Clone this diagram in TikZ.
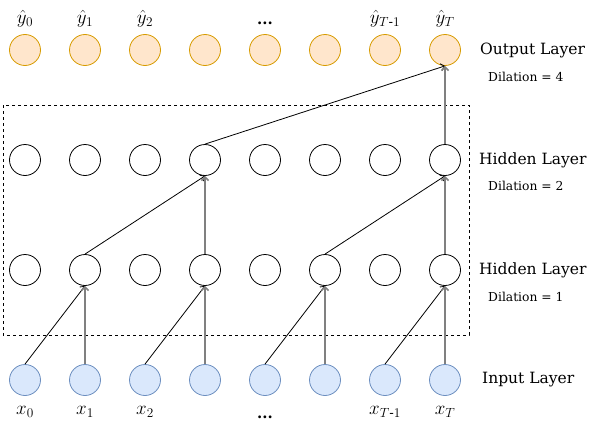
\RequirePackage{fix-cm}
\documentclass[tikz,border=0pt]{standalone}
\usepackage{amsmath}
\usepackage{fontspec}
\setmainfont{DejaVu Serif}
\usetikzlibrary{arrows.meta}
\definecolor{outFill}{HTML}{FFE6CC}
\definecolor{outDraw}{HTML}{D79B00}
\definecolor{inFill}{HTML}{DAE8FC}
\definecolor{inDraw}{HTML}{6C8EBF}
\tikzset{
    tcnUnit/.style={
        circle, draw=black, fill=white, line width=0.8pt, minimum size=31pt, inner sep=0pt
    },
    tcnOut/.style={
        tcnUnit, draw=outDraw, fill=outFill
    },
    tcnIn/.style={
        tcnUnit, draw=inDraw, fill=inFill
    },
    tcnSym/.style={
        font=\fontsize{19}{21}\selectfont, inner sep=0pt
    },
    tcnLayer/.style={
        anchor=west, font=\fontsize{15.5}{17}\selectfont, inner sep=0pt
    },
    tcnDil/.style={
        anchor=west, font=\fontsize{12.3}{14}\selectfont, inner sep=0pt
    },
    tcnArrow/.style={
        -{Straight Barb[length=3.5pt, width=7pt]}, line width=0.8pt, draw=black
    },
    tcnStraight/.style={
        tcnArrow, draw=black!50, line width=1.6pt
    }
}
\begin{document}
\begin{tikzpicture}[x=1pt, y=-1pt]
    \useasboundingbox (0, 0) rectangle (591, 431);

    % ── DASHED FRAME ROUND THE HIDDEN LAYERS
    \draw[black, dashed, line width=0.8pt] (3, 105) rectangle (469, 335);

    % ── OUTPUT LAYER
    \node[tcnOut] (out0) at (25, 50) {};
    \node[tcnOut] (out1) at (85, 50) {};
    \node[tcnOut] (out2) at (145, 50) {};
    \node[tcnOut] (out3) at (205, 50) {};
    \node[tcnOut] (out4) at (265, 50) {};
    \node[tcnOut] (out5) at (325, 50) {};
    \node[tcnOut] (out6) at (385, 50) {};
    \node[tcnOut] (out7) at (445, 50) {};
    \node[tcnSym] (yHat0) at (25, 19) {$\hat{y}_{0}$};
    \node[tcnSym] (yHat1) at (85, 19) {$\hat{y}_{1}$};
    \node[tcnSym] (yHat2) at (145, 19) {$\hat{y}_{2}$};
    \node[tcnSym, font=\fontsize{15}{17}\selectfont] (yDots) at (265, 23) {\textbf{...}};
    \node[tcnSym] (yHatA) at (385, 19) {$\hat{y}_{T\text{-}1}$};
    \node[tcnSym] (yHatB) at (445, 19) {$\hat{y}_{T}$};

    % ── HIDDEN LAYER (DILATION 2)
    \node[tcnUnit] (hb0) at (25, 160) {};
    \node[tcnUnit] (hb1) at (85, 160) {};
    \node[tcnUnit] (hb2) at (145, 160) {};
    \node[tcnUnit] (hb3) at (205, 160) {};
    \node[tcnUnit] (hb4) at (265, 160) {};
    \node[tcnUnit] (hb5) at (325, 160) {};
    \node[tcnUnit] (hb6) at (385, 160) {};
    \node[tcnUnit] (hb7) at (445, 160) {};

    % ── HIDDEN LAYER (DILATION 1)
    \node[tcnUnit] (ha0) at (25, 270) {};
    \node[tcnUnit] (ha1) at (85, 270) {};
    \node[tcnUnit] (ha2) at (145, 270) {};
    \node[tcnUnit] (ha3) at (205, 270) {};
    \node[tcnUnit] (ha4) at (265, 270) {};
    \node[tcnUnit] (ha5) at (325, 270) {};
    \node[tcnUnit] (ha6) at (385, 270) {};
    \node[tcnUnit] (ha7) at (445, 270) {};

    % ── INPUT LAYER
    \node[tcnIn] (in0) at (25, 380) {};
    \node[tcnIn] (in1) at (85, 380) {};
    \node[tcnIn] (in2) at (145, 380) {};
    \node[tcnIn] (in3) at (205, 380) {};
    \node[tcnIn] (in4) at (265, 380) {};
    \node[tcnIn] (in5) at (325, 380) {};
    \node[tcnIn] (in6) at (385, 380) {};
    \node[tcnIn] (in7) at (445, 380) {};
    \node[tcnSym] (xIn0) at (25, 412) {$x_{0}$};
    \node[tcnSym] (xIn1) at (85, 412) {$x_{1}$};
    \node[tcnSym] (xIn2) at (145, 412) {$x_{2}$};
    \node[tcnSym, font=\fontsize{15}{17}\selectfont] (xDots) at (265, 417) {\textbf{...}};
    \node[tcnSym] (xInA) at (385, 412) {$x_{T\text{-}1}$};
    \node[tcnSym] (xInB) at (445, 412) {$x_{T}$};

    % ── LAYER NAMES
    \node[tcnLayer] (lblOut) at (480, 50) {Output Layer};
    \node[tcnDil] (dilOut) at (488, 77) {Dilation = 4};
    \node[tcnLayer] (lblHb) at (479, 160) {Hidden Layer};
    \node[tcnDil] (dilHb) at (488, 186) {Dilation = 2};
    \node[tcnLayer] (lblHa) at (479, 270) {Hidden Layer};
    \node[tcnDil] (dilHa) at (488, 297) {Dilation = 1};
    \node[tcnLayer] (lblIn) at (482, 380) {Input Layer};

    % Input -> hidden (dilation 1)
    \draw[tcnArrow] (in0.north) -- (ha1.south);
    \draw[tcnStraight] (in1.north) -- (ha1.south);
    \draw[tcnArrow] (in2.north) -- (ha3.south);
    \draw[tcnStraight] (in3.north) -- (ha3.south);
    \draw[tcnArrow] (in4.north) -- (ha5.south);
    \draw[tcnStraight] (in5.north) -- (ha5.south);
    \draw[tcnArrow] (in6.north) -- (ha7.south);
    \draw[tcnStraight] (in7.north) -- (ha7.south);

    % Hidden (dilation 1) -> hidden (dilation 2)
    \draw[tcnArrow] (ha1.north) -- (hb3.south);
    \draw[tcnStraight] (ha3.north) -- (hb3.south);
    \draw[tcnArrow] (ha5.north) -- (hb7.south);
    \draw[tcnStraight] (ha7.north) -- (hb7.south);

    % Hidden (dilation 2) -> output
    \draw[tcnArrow] (hb3.north) -- (out7.south);
    \draw[tcnStraight] (hb7.north) -- (out7.south);
\end{tikzpicture}
\end{document}
